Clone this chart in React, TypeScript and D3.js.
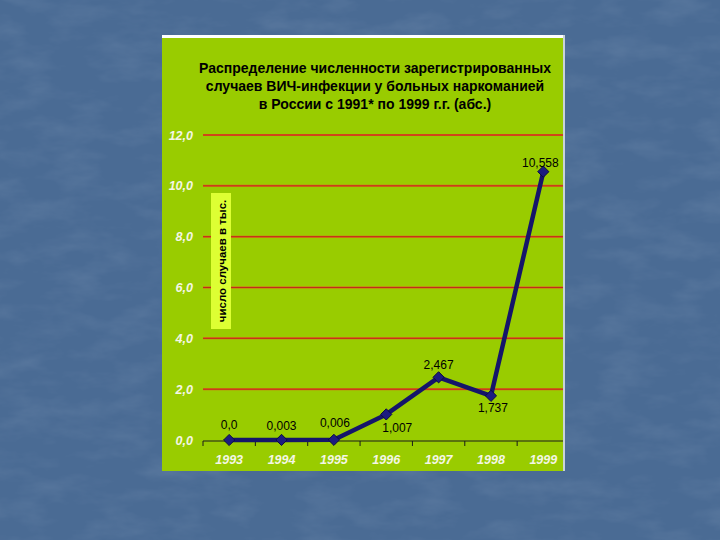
import React, { useEffect } from "react";
import * as d3 from "d3";

const years = ["1993", "1994", "1995", "1996", "1997", "1998", "1999"];
const values = [0.0, 0.003, 0.006, 1.007, 2.467, 1.737, 10.558];
const valueLabels = ["0,0", "0,003", "0,006", "1,007", "2,467", "1,737", "10,558"];
const yTicks = [0, 2, 4, 6, 8, 10, 12];
const yTickLabels = ["0,0", "2,0", "4,0", "6,0", "8,0", "10,0", "12,0"];
const titleLines = [
  "Распределение численности зарегистрированных",
  "случаев ВИЧ-инфекции у больных наркоманией",
  "в России с 1991* по 1999 г.г. (абс.)",
];
const yAxisTitle = "число случаев в тыс.";

// label placement (layout only): dx, dy relative to point
const labelOffsets: [number, number][] = [
  [0, -11], [0, -10], [1, -13], [11, 18], [0, -8], [2, 16], [-3, -5],
];

const W = 720, H = 540;
const panel = { x0: 162, x1: 563, y0: 38, y1: 471 };

export default function App() {
  useEffect(() => {
    document.body.style.margin = "0";
  }, []);

  const x = d3.scaleBand<string>().domain(years).range([203, 569.5]);
  const y = d3.scaleLinear().domain([0, 12]).range([440, 135]);
  const line = d3.line<number>()
    .x((_, i) => (x(years[i]) as number) + x.bandwidth() / 2)
    .y((d) => y(d));
  const diamond = d3.symbol().type(d3.symbolDiamond2).size(80)() as string;
  const font = "'Liberation Sans', Arial, sans-serif";
  const boundaries = d3.range(years.length + 1).map((i) => 203 + i * x.step());

  return (
    <svg width={W} height={H} style={{ position: "fixed", left: 0, top: 0, display: "block" }}>
      <defs>
        <filter id="tex" x="0" y="0" width="100%" height="100%">
          <feTurbulence type="fractalNoise" baseFrequency="0.02 0.05" numOctaves={4} seed={7} result="n" />
          <feColorMatrix in="n" type="matrix"
            values="0 0 0 0 0.78  0 0 0 0 0.85  0 0 0 0 0.95  0 0 0 1.2 -0.5" />
        </filter>
        <clipPath id="pc">
          <rect x={panel.x0} y={panel.y0} width={panel.x1 - panel.x0} height={panel.y1 - panel.y0} />
        </clipPath>
      </defs>
      <rect x={0} y={0} width={W} height={H} fill="#4a6b94" />
      <rect x={0} y={0} width={W} height={H} filter="url(#tex)" opacity={0.14} />
      <rect x={panel.x0} y={35} width={panel.x1 - panel.x0} height={3} fill="#ffffff" />
      <rect x={panel.x0} y={panel.y0} width={panel.x1 - panel.x0} height={panel.y1 - panel.y0} fill="#99cc00" />
      <rect x={panel.x1} y={35} width={2} height={panel.y1 - 35} fill="#c9d3d8" />
      {titleLines.map((t, i) => (
        <text key={i} x={375} y={73 + i * 18} textAnchor="middle" fontFamily={font}
          fontWeight="bold" fontSize={14} fill="#000">{t}</text>
      ))}
      <g clipPath="url(#pc)">
        {yTicks.filter((t) => t > 0).map((t) => (
          <g key={t}>
            <line x1={203} x2={panel.x1} y1={y(t)} y2={y(t)} stroke="#e0601a" strokeWidth={2} />
            <line x1={203} x2={panel.x1} y1={y(t)} y2={y(t)} stroke="#b8201a" strokeWidth={0.8} />
          </g>
        ))}
        <line x1={203} x2={panel.x1} y1={y(0) + 1} y2={y(0) + 1} stroke="#1a1a1a" strokeWidth={1} />
        {boundaries.map((b, i) => (
          <line key={i} x1={b} x2={b} y1={y(0) + 1} y2={y(0) + 6} stroke="#1a1a1a" strokeWidth={1} />
        ))}
      </g>
      {yTicks.map((t, i) => (
        <text key={t} x={193} y={y(t) + 4.5} textAnchor="end" fontFamily={font} fontWeight="bold"
          fontStyle="italic" fontSize={12.5} fill="#f4f6e6">{yTickLabels[i]}</text>
      ))}
      <rect x={211} y={193} width={20} height={136} fill="#ddff33" />
      <text transform={`translate(225.5,261) rotate(-90)`} textAnchor="middle" fontFamily={font}
        fontWeight="bold" fontSize={11.5} fill="#000">{yAxisTitle}</text>
      {years.map((yr) => (
        <text key={yr} x={(x(yr) as number) + x.bandwidth() / 2} y={463.5} textAnchor="middle"
          fontFamily={font} fontWeight="bold" fontStyle="italic" fontSize={12.5} fill="#f4f6e6">{yr}</text>
      ))}
      <path d={line(values) as string} fill="none" stroke="#15156a" strokeWidth={4.5} strokeLinejoin="round" />
      {values.map((v, i) => (
        <path key={i} d={diamond}
          transform={`translate(${(x(years[i]) as number) + x.bandwidth() / 2},${y(v)})`}
          fill="#1c1c80" stroke="#0c0c40" strokeWidth={1} />
      ))}
      {values.map((v, i) => (
        <text key={i} x={(x(years[i]) as number) + x.bandwidth() / 2 + labelOffsets[i][0]}
          y={y(v) + labelOffsets[i][1]} textAnchor="middle" fontFamily={font} fontSize={12}
          fill="#000">{valueLabels[i]}</text>
      ))}
    </svg>
  );
}
